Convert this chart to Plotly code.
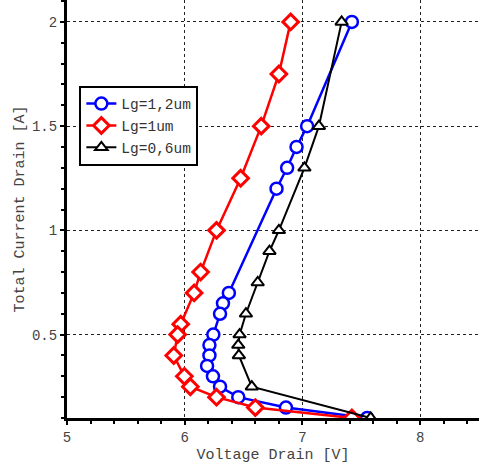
import plotly.graph_objects as go

blue_name = "Lg=1,2um"
blue_x = [7.42, 7.04, 6.95, 6.87, 6.78, 6.375, 6.325, 6.30, 6.243, 6.21, 6.21, 6.19, 6.24, 6.30, 6.455, 6.86, 7.55]
blue_y = [2.0, 1.5, 1.4, 1.3, 1.2, 0.7, 0.65, 0.6, 0.5, 0.45, 0.4, 0.35, 0.3, 0.25, 0.2, 0.15, 0.1]

red_name = "Lg=1um"
red_x = [6.90, 6.80, 6.65, 6.475, 6.27, 6.135, 6.08, 5.966, 5.94, 5.907, 5.997, 6.048, 6.27, 6.60, 7.42]
red_y = [2.0, 1.75, 1.5, 1.25, 1.0, 0.8, 0.7, 0.55, 0.5, 0.4, 0.3, 0.25, 0.2, 0.15, 0.1]

black_name = "Lg=0,6um"
black_x = [7.333, 7.14, 7.017, 6.80, 6.72, 6.62, 6.52, 6.466, 6.455, 6.46, 6.57, 7.58]
black_y = [2.0, 1.5, 1.3, 1.0, 0.9, 0.75, 0.6, 0.5, 0.45, 0.4, 0.25, 0.1]

x_ticks = [5, 6, 7, 8]
y_ticks = [0.5, 1, 1.5, 2]

FONT = "Liberation Mono, Courier New, monospace"

fig = go.Figure()
fig.add_trace(go.Scatter(
    x=blue_x, y=blue_y, name=blue_name, mode="lines+markers",
    line=dict(color="#0000ff", width=2.5),
    marker=dict(symbol="circle", size=12, color="white",
                line=dict(color="#0000ff", width=2.5)),
))
fig.add_trace(go.Scatter(
    x=red_x, y=red_y, name=red_name, mode="lines+markers",
    line=dict(color="#ff0000", width=2.5),
    marker=dict(symbol="diamond", size=12, color="white",
                line=dict(color="#ff0000", width=3)),
))
fig.add_trace(go.Scatter(
    x=black_x, y=black_y, name=black_name, mode="lines+markers",
    line=dict(color="#000000", width=2),
    marker=dict(symbol="triangle-up", size=11, color="white",
                line=dict(color="#000000", width=2)),
))

fig.update_layout(
    width=479, height=468,
    margin=dict(l=67, r=0, t=0, b=50, autoexpand=False),
    paper_bgcolor="white", plot_bgcolor="white",
    font=dict(family=FONT, size=14, color="#444444"),
    showlegend=True,
    legend=dict(
        x=0.03, y=0.795, xanchor="left", yanchor="top",
        bgcolor="white", bordercolor="black", borderwidth=2,
        font=dict(family=FONT, size=14.5, color="#333333"),
        tracegroupgap=0, itemwidth=30,
    ),
    xaxis=dict(
        range=[5, 8.5], tickvals=x_ticks, ticktext=[str(v) for v in x_ticks],
        showline=True, linecolor="black", linewidth=3,
        ticks="outside", ticklen=4, tickwidth=2, tickcolor="black",
        minor=dict(dtick=0.2, ticks="outside", ticklen=3, tickwidth=2, tickcolor="black", showgrid=False),
        showgrid=True, gridcolor="#222222", griddash="dot", gridwidth=1,
        zeroline=False, automargin=False,
        title=dict(text="Voltage Drain [V]", font=dict(family=FONT, size=15, color="#444444"), standoff=4),
        tickfont=dict(family=FONT, size=14, color="#444444"),
    ),
    yaxis=dict(
        range=[0.1, 2.105], tickvals=y_ticks, ticktext=["0.5", "1", "1.5", "2"],
        showline=True, linecolor="black", linewidth=3,
        ticks="outside", ticklen=4, tickwidth=2, tickcolor="black",
        minor=dict(dtick=0.1, ticks="outside", ticklen=3, tickwidth=2, tickcolor="black", showgrid=False),
        showgrid=True, gridcolor="#222222", griddash="dot", gridwidth=1,
        zeroline=False, automargin=False,
        title=dict(text="Total Current Drain [A]", font=dict(family=FONT, size=15, color="#444444"), standoff=4),
        tickfont=dict(family=FONT, size=14, color="#444444"),
    ),
)

fig.write_html(
    "out.html",
    config={"displayModeBar": False},
    post_script="document.body.style.margin='0';document.body.style.overflow='hidden';",
)
